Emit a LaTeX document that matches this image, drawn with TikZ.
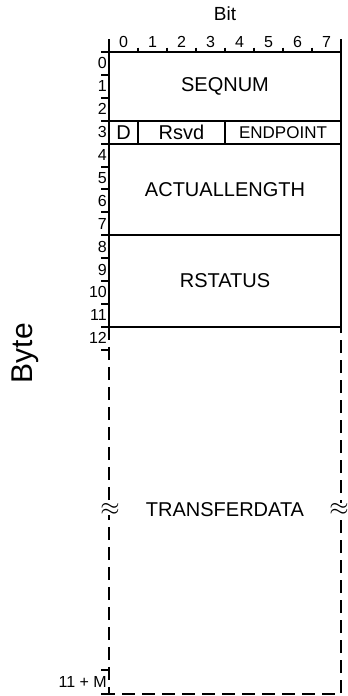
\documentclass[tikz,border=0pt]{standalone}
\usepackage{fontspec}
\setmainfont{Liberation Sans}
\usetikzlibrary{calc}

\def\rh{22.9}

\begin{document}
\begin{tikzpicture}[x=1pt, y=-1pt,
    field/.style={font=\fontsize{20}{24}\selectfont, inner sep=0pt},
    smallnum/.style={font=\fontsize{16}{18}\selectfont, inner sep=0pt},
    regline/.style={line width=2pt},
    gapline/.style={line width=2pt, dash pattern=on 13pt off 7pt}]
    \useasboundingbox (0,0) rectangle (348,696);

    \node[font=\fontsize{19}{21}\selectfont] (bit) at (225,13.5) {Bit};
    \node[font=\fontsize{30}{34}\selectfont, rotate=90] (byte) at (25,353) {Byte};

    \draw[regline] (109,39) -- (109,52);
    \draw[regline] (341,39) -- (341,52);
    \foreach \b in {1,...,7}
        \draw[regline] ({109+29*\b},47.5) -- ({109+29*\b},52);
    \foreach \b in {0,...,7}
        \node[smallnum] (b\b) at ({123.5+29*\b},42) {\b};

    \draw[regline] (109,52) rectangle (341,{52+12*\rh});
    \foreach \r in {3,4,8}
        \draw[regline] (109,{52+\r*\rh}) -- (341,{52+\r*\rh});
    \draw[regline] (138,{52+3*\rh}) -- (138,{52+4*\rh});
    \draw[regline] (225,{52+3*\rh}) -- (225,{52+4*\rh});

    \foreach \r in {0,...,13}
        \draw[regline] (101,{52+\r*\rh}) -- (109,{52+\r*\rh});
    \foreach \r in {0,...,12}
        \node[smallnum, anchor=east] (r\r) at (107,{52+(\r+0.5)*\rh}) {\r};

    \node[field] (seqnum) at (225,{52+1.5*\rh}) {SEQNUM};
    \node[field] (d) at (123.5,{52+3.5*\rh}) {D};
    \node[field] (rsvd) at (181.5,{52+3.5*\rh}) {Rsvd};
    \node[field, font=\fontsize{17}{20}\selectfont] (endpoint) at (283,{52+3.5*\rh}) {ENDPOINT};
    \node[field] (actlen) at (225,{52+6*\rh}) {ACTUALLENGTH};
    \node[field] (rstatus) at (225,{52+10*\rh}) {RSTATUS};

    \draw[gapline] (109,{52+12*\rh}) -- (109,694) -- (341,694) -- (341,{52+12*\rh});
    \draw[regline] (101,694) -- (109,694);
    \draw[regline] (101,670) -- (109,670);
    \node[smallnum, anchor=east] (rm) at (107,682) {11 + M};

    \node[field] (xfer) at (225,509.5) {TRANSFERDATA};
    \node[fill=white, inner sep=0pt, font=\fontsize{32}{34}\selectfont] (brkl) at (110,509) {$\approx$};
    \node[fill=white, inner sep=0pt, font=\fontsize{32}{34}\selectfont] (brkr) at (339,509) {$\approx$};
\end{tikzpicture}
\end{document}
